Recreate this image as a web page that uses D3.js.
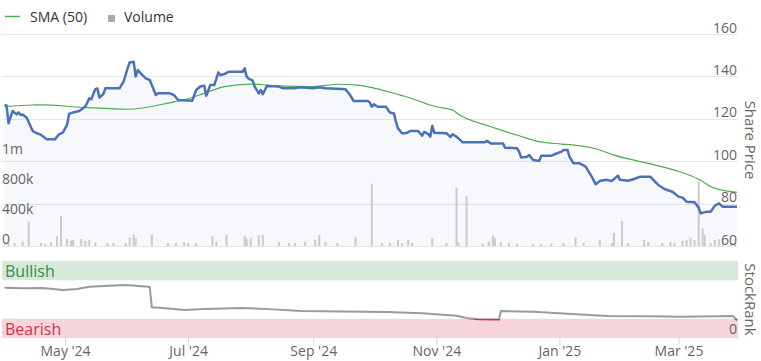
<!DOCTYPE html>
<html lang="en">
<head>
<meta charset="UTF-8">
<title>Share Price and StockRank</title>
<script src="https://cdn.jsdelivr.net/npm/d3@7"></script>
<style>
  body { margin: 0; background: #fff; }
  text { font-family: "Open Sans", sans-serif; }
</style>
</head>
<body>
<script>
// ---- data ----
const price = [
  ["2024-04-01",126.5],["2024-04-02",126.3],["2024-04-03",117.9],["2024-04-05",123.7],["2024-04-07",122.1],
  ["2024-04-08",123.0],["2024-04-09",121.8],["2024-04-10",122.0],["2024-04-12",120.5],["2024-04-14",116.3],
  ["2024-04-15",114.2],["2024-04-17",113.2],["2024-04-19",112.5],["2024-04-20",111.8],["2024-04-22",110.3],
  ["2024-04-26",110.3],["2024-04-28",112.7],["2024-04-30",113.6],["2024-05-02",117.1],["2024-05-03",122.3],
  ["2024-05-05",123.0],["2024-05-08",123.7],["2024-05-11",125.7],["2024-05-13",129.7],["2024-05-14",129.2],
  ["2024-05-16",134.0],["2024-05-17",134.3],["2024-05-18",130.0],["2024-05-20",131.7],["2024-05-21",134.4],
  ["2024-05-28",134.4],["2024-05-29",136.0],["2024-05-30",137.5],["2024-06-01",143.8],["2024-06-02",146.6],
  ["2024-06-04",146.9],["2024-06-05",139.9],["2024-06-06",143.0],["2024-06-08",141.0],["2024-06-10",139.1],
  ["2024-06-12",138.3],["2024-06-14",133.6],["2024-06-15",131.2],["2024-06-16",132.0],["2024-06-22",132.0],
  ["2024-06-24",131.2],["2024-06-26",128.9],["2024-07-03",128.5],["2024-07-05",133.6],["2024-07-07",135.2],
  ["2024-07-09",135.6],["2024-07-10",130.9],["2024-07-12",136.0],["2024-07-14",136.0],["2024-07-16",141.9],
  ["2024-07-17",140.6],["2024-07-19",141.1],["2024-07-21",142.2],["2024-07-28",142.2],["2024-07-29",143.8],
  ["2024-07-30",139.9],["2024-07-31",138.9],["2024-08-02",138.0],["2024-08-03",135.2],["2024-08-05",132.0],
  ["2024-08-06",133.6],["2024-08-07",131.6],["2024-08-09",135.5],["2024-08-15",135.2],["2024-08-17",134.4],
  ["2024-08-23",134.4],["2024-08-25",134.9],["2024-09-01",134.4],["2024-09-04",134.9],["2024-09-07",134.4],
  ["2024-09-15",134.0],["2024-09-17",133.9],["2024-09-19",131.6],["2024-09-21",128.4],["2024-09-28",128.4],
  ["2024-09-29",127.8],["2024-09-30",125.7],["2024-10-01",126.8],["2024-10-03",125.7],["2024-10-07",125.7],
  ["2024-10-09",123.0],["2024-10-11",122.5],["2024-10-12",118.6],["2024-10-13",115.5],["2024-10-15",113.2],
  ["2024-10-17",113.2],["2024-10-19",114.2],["2024-10-23",114.2],["2024-10-25",112.0],["2024-10-26",113.9],
  ["2024-10-28",112.8],["2024-10-29",111.6],["2024-10-30",116.7],["2024-10-31",113.4],["2024-11-06",113.2],
  ["2024-11-08",111.4],["2024-11-09",112.7],["2024-11-11",111.6],["2024-11-14",108.9],["2024-11-25",108.9],
  ["2024-11-26",109.6],["2024-11-28",108.4],["2024-12-04",108.4],["2024-12-05",106.4],["2024-12-11",106.1],
  ["2024-12-12",104.5],["2024-12-13",101.8],["2024-12-16",102.1],["2024-12-17",102.9],["2024-12-19",100.6],
  ["2024-12-22",100.1],["2024-12-23",102.6],["2024-12-28",102.6],["2024-12-30",103.4],["2025-01-02",104.5],
  ["2025-01-03",105.3],["2025-01-05",105.3],["2025-01-06",102.1],["2025-01-08",99.0],["2025-01-11",99.0],
  ["2025-01-14",97.4],["2025-01-17",92.7],["2025-01-19",89.1],["2025-01-21",90.7],["2025-01-24",91.2],
  ["2025-01-27",90.7],["2025-01-30",93.2],["2025-01-31",91.2],["2025-02-04",90.8],["2025-02-07",91.6],
  ["2025-02-10",92.7],["2025-02-15",92.7],["2025-02-17",90.7],["2025-02-19",88.8],["2025-02-22",86.9],
  ["2025-02-26",85.6],["2025-03-01",83.3],["2025-03-03",82.8],["2025-03-05",80.9],["2025-03-09",80.6],
  ["2025-03-11",78.1],["2025-03-12",75.4],["2025-03-15",76.2],["2025-03-17",76.2],["2025-03-19",79.0],
  ["2025-03-21",80.1],["2025-03-23",78.5],["2025-03-30",78.5]
];

const sma50 = [
  ["2024-04-01",125.7],["2024-04-15",126.5],["2024-04-19",126.6],["2024-05-10",125.4],["2024-06-01",124.5],
  ["2024-06-24",128.0],["2024-06-30",129.2],["2024-07-09",132.0],["2024-07-19",135.2],["2024-08-01",136.4],
  ["2024-08-14",135.5],["2024-09-01",135.2],["2024-09-13",136.3],["2024-09-23",135.9],["2024-10-01",134.5],
  ["2024-10-14",131.2],["2024-10-17",130.4],["2024-11-01",125.7],["2024-11-09",124.2],["2024-11-12",122.1],
  ["2024-11-27",116.6],["2024-12-02",115.0],["2024-12-12",112.0],["2024-12-22",109.2],["2025-01-02",108.1],
  ["2025-01-08",107.6],["2025-01-18",106.1],["2025-01-28",102.9],["2025-02-14",99.0],["2025-02-27",95.8],
  ["2025-03-11",91.5],["2025-03-17",88.0],["2025-03-24",86.1],["2025-03-30",85.3]
];

// volume, in thousands of shares
const volume = [
  ["2024-04-03",40],["2024-04-06",40],["2024-04-10",60],["2024-04-13",325],["2024-04-19",40],["2024-04-21",30],
  ["2024-04-24",50],["2024-04-27",130],["2024-04-29",400],["2024-05-02",95],["2024-05-04",70],["2024-05-05",80],
  ["2024-05-09",95],["2024-05-11",70],["2024-05-13",80],["2024-05-16",50],["2024-05-22",40],["2024-05-25",40],
  ["2024-05-31",40],["2024-06-02",110],["2024-06-04",150],["2024-06-05",105],["2024-06-13",150],["2024-06-21",40],
  ["2024-06-25",40],["2024-06-29",50],["2024-07-01",40],["2024-07-05",40],["2024-07-13",130],["2024-07-15",60],
  ["2024-07-20",150],["2024-07-29",130],["2024-07-30",100],["2024-08-01",110],["2024-08-05",140],["2024-08-07",150],
  ["2024-08-15",55],["2024-08-20",40],["2024-08-23",40],["2024-08-28",60],["2024-09-02",85],["2024-09-04",150],
  ["2024-09-07",60],["2024-09-13",40],["2024-09-22",115],["2024-09-30",830],["2024-10-05",40],["2024-10-09",40],
  ["2024-10-13",80],["2024-10-15",40],["2024-10-18",80],["2024-10-20",40],["2024-10-30",105],["2024-11-06",40],
  ["2024-11-11",780],["2024-11-12",50],["2024-11-16",665],["2024-11-24",30],["2024-11-27",60],["2024-11-29",140],
  ["2024-11-30",110],["2024-12-03",50],["2024-12-07",40],["2024-12-11",30],["2024-12-19",30],["2024-12-23",30],
  ["2024-12-28",30],["2025-01-03",40],["2025-01-09",110],["2025-01-13",40],["2025-01-21",80],["2025-01-27",40],
  ["2025-01-28",175],["2025-02-01",335],["2025-02-04",40],["2025-02-12",80],["2025-02-14",55],["2025-02-21",40],
  ["2025-02-25",55],["2025-02-27",40],["2025-03-03",70],["2025-03-05",80],["2025-03-07",110],["2025-03-09",80],
  ["2025-03-11",860],["2025-03-13",235],["2025-03-14",150],["2025-03-17",40],["2025-03-19",80],["2025-03-21",90],
  ["2025-03-23",55],["2025-03-27",40],["2025-03-29",40]
];

const stockRank = [
  ["2024-04-01",65.3],["2024-04-10",64.5],["2024-04-20",65.0],["2024-04-30",62.3],["2024-05-07",63.6],
  ["2024-05-13",66.6],["2024-05-20",67.5],["2024-05-31",68.8],["2024-06-05",68.0],["2024-06-11",66.6],
  ["2024-06-12",66.0],["2024-06-13",39.9],["2024-06-20",38.5],["2024-06-29",36.4],["2024-07-09",37.7],
  ["2024-07-28",39.0],["2024-08-10",37.5],["2024-08-26",35.0],["2024-09-15",34.5],["2024-10-08",33.8],
  ["2024-10-25",32.0],["2024-11-11",29.0],["2024-11-17",25.5],["2024-11-22",24.2],["2024-12-02",24.0],
  ["2024-12-03",35.0],["2024-12-19",34.0],["2025-01-05",31.5],["2025-01-25",28.6],["2025-02-15",28.2],
  ["2025-03-02",27.7],["2025-03-28",28.6],["2025-03-30",23.0]
];

const priceTicks = [60, 80, 100, 120, 140, 160];
const volumeTicks = [0, 400000, 800000, 1200000];
const rankBands = [
  { name: "Bullish", from: 75, to: 100, fill: "#d5e8db", color: "#3b8c3b" },
  { name: "Bearish", from: 0, to: 25, fill: "#f5d5db", color: "#d23149" }
];

// ---- chart ----
const width = 761, height = 361;
const parse = d3.utcParse("%Y-%m-%d");
const left = 2, right = 738;

const svg = d3.select("body").append("svg")
  .attr("width", width).attr("height", height)
  .style("display", "block");

const x = d3.scaleUtc()
  .domain([parse("2024-03-31"), parse("2025-03-30")])
  .range([2.5, 737]);

const y = d3.scaleLinear().domain([60, 160]).range([246, 34]);
const yVol = d3.scaleLinear().domain([0, 1200000]).range([246, 156]);
const yRank = d3.scaleLinear().domain([0, 100]).range([338, 261]);

// price gridlines
svg.append("g")
  .selectAll("line").data(priceTicks).join("line")
  .attr("x1", left).attr("x2", right)
  .attr("y1", d => Math.round(y(d)) + 0.5).attr("y2", d => Math.round(y(d)) + 0.5)
  .attr("stroke", "#e6e6e6").attr("stroke-width", 1);

// area under price
const priceData = price.map(([d, v]) => ({ date: parse(d), v }));
svg.append("path")
  .datum(priceData)
  .attr("fill", "rgba(74,114,185,0.05)")
  .attr("d", d3.area().x(d => x(d.date)).y0(y(60)).y1(d => y(d.v)));

// volume bars
svg.append("g")
  .selectAll("rect").data(volume).join("rect")
  .attr("x", d => x(parse(d[0])) - 1)
  .attr("width", 2)
  .attr("y", d => yVol(d[1] * 1000))
  .attr("height", d => yVol(0) - yVol(d[1] * 1000))
  .attr("fill", "#c9cad1");

// volume labels (left)
svg.append("g")
  .attr("transform", `translate(${left},0)`)
  .call(d3.axisRight(yVol).tickValues(volumeTicks).tickSize(0)
    .tickFormat(v => v === 0 ? "0" : v >= 1e6 ? Math.floor(v / 1e6) + "m" : (v / 1000) + "k"))
  .call(g => g.select(".domain").remove())
  .call(g => g.selectAll("text")
    .attr("x", 0).attr("dy", "-3px").attr("y", 0)
    .attr("text-anchor", "start")
    .style("font-family", "'Open Sans', sans-serif")
    .style("font-size", "14px").attr("fill", "#666"));

// SMA
svg.append("path")
  .datum(sma50.map(([d, v]) => ({ date: parse(d), v })))
  .attr("fill", "none")
  .attr("stroke", "#4cae4f")
  .attr("stroke-width", 1.2)
  .attr("d", d3.line().curve(d3.curveMonotoneX).x(d => x(d.date)).y(d => y(d.v)));

// price line
svg.append("path")
  .datum(priceData)
  .attr("fill", "none")
  .attr("stroke", "#4a72b9")
  .attr("stroke-width", 2.5)
  .attr("stroke-linejoin", "round")
  .attr("d", d3.line().x(d => x(d.date)).y(d => y(d.v)));

// price axis (right)
svg.append("g")
  .attr("transform", `translate(${right},0)`)
  .call(d3.axisLeft(y).tickValues(priceTicks).tickSize(0))
  .call(g => g.select(".domain").remove())
  .call(g => g.selectAll("text")
    .attr("x", -1).attr("dy", "-2px")
    .attr("text-anchor", "end")
    .style("font-family", "'Open Sans', sans-serif")
    .style("font-size", "14px").attr("fill", "#666"));

svg.append("text")
  .attr("transform", `translate(745,${(34 + 246) / 2}) rotate(90)`)
  .attr("text-anchor", "middle")
  .attr("font-size", 15).attr("fill", "#666")
  .text("Share Price");

// ---- StockRank panel ----
svg.append("g")
  .selectAll("rect").data(rankBands).join("rect")
  .attr("x", left).attr("width", right - left)
  .attr("y", d => yRank(d.to)).attr("height", d => yRank(d.from) - yRank(d.to))
  .attr("fill", d => d.fill);

svg.append("g")
  .selectAll("text").data(rankBands).join("text")
  .attr("x", 5).attr("y", d => yRank(d.from) - 3)
  .attr("font-size", 16).attr("fill", d => d.color)
  .text(d => d.name);

const defs = svg.append("defs");
defs.append("clipPath").attr("id", "above")
  .append("rect").attr("x", 0).attr("width", width).attr("y", 0).attr("height", yRank(25));
defs.append("clipPath").attr("id", "below")
  .append("rect").attr("x", 0).attr("width", width).attr("y", yRank(25)).attr("height", height);

const rankLine = d3.line().x(d => x(parse(d[0]))).y(d => yRank(d[1]));
svg.append("path").datum(stockRank)
  .attr("clip-path", "url(#above)")
  .attr("fill", "none").attr("stroke", "#9a9a9a").attr("stroke-width", 2)
  .attr("d", rankLine);
svg.append("path").datum(stockRank)
  .attr("clip-path", "url(#below)")
  .attr("fill", "none").attr("stroke", "#d23149").attr("stroke-width", 2)
  .attr("d", rankLine);

svg.append("text")
  .attr("x", 737).attr("y", 334)
  .attr("text-anchor", "end")
  .attr("font-size", 14).attr("fill", "#666")
  .text("0");

svg.append("text")
  .attr("transform", `translate(745,${(261 + 338) / 2}) rotate(90)`)
  .attr("text-anchor", "middle")
  .attr("font-size", 15).attr("fill", "#666")
  .text("StockRank");

// x axis
svg.append("g")
  .attr("transform", "translate(0,338)")
  .call(d3.axisBottom(x).ticks(d3.utcMonth.every(2)).tickSize(7).tickPadding(1)
    .tickFormat(d3.utcFormat("%b '%y")))
  .call(g => g.select(".domain").remove())
  .call(g => g.selectAll(".tick line").attr("stroke", "#ccd6eb"))
  .call(g => g.selectAll("text")
    .style("font-family", "'Open Sans', sans-serif")
    .style("font-size", "14px").attr("fill", "#666"));

// legend
const legend = svg.append("g");
legend.append("line").attr("x1", 5).attr("x2", 20).attr("y1", 16.5).attr("y2", 16.5)
  .attr("stroke", "#4cae4f").attr("stroke-width", 1.5);
legend.append("text").attr("x", 30).attr("y", 22).attr("font-size", 14).attr("fill", "#333").text("SMA (50)");
legend.append("rect").attr("x", 108).attr("y", 15).attr("width", 7).attr("height", 7).attr("fill", "#aaa");
legend.append("text").attr("x", 124).attr("y", 22).attr("font-size", 14).attr("fill", "#333").text("Volume");
</script>
</body>
</html>
